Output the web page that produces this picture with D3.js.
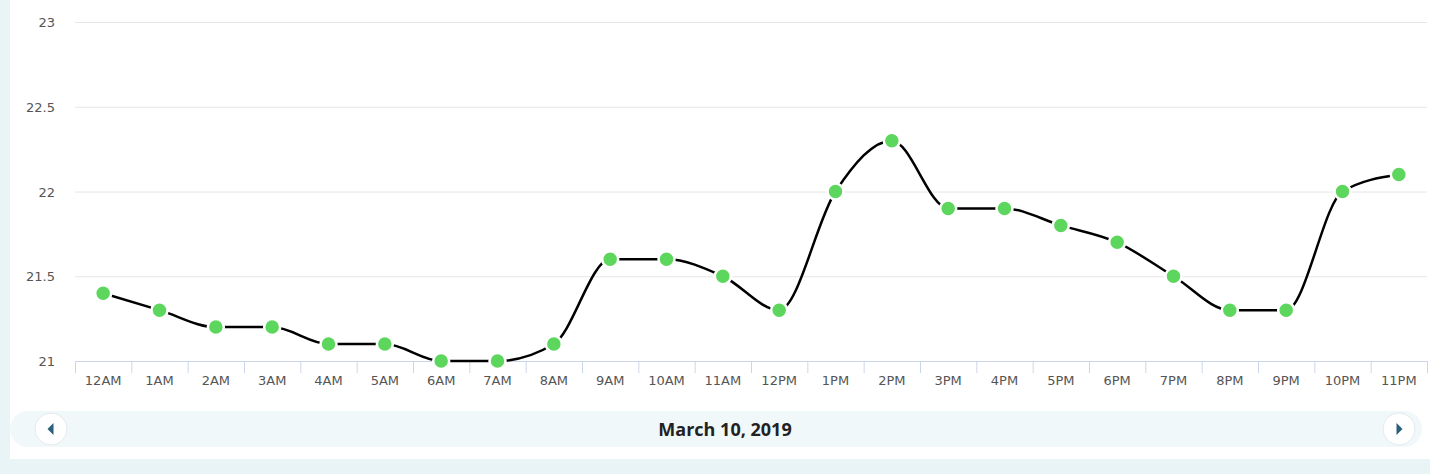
<!DOCTYPE html>
<html>
<head>
<meta charset="utf-8">
<script src="https://cdn.jsdelivr.net/npm/d3@7"></script>
<style>
  body { margin: 0; background: #e9f4f6; }
  svg { display: block; }
</style>
</head>
<body>
<script>
// hourly values for one day
let hours = ["12AM", "1AM", "2AM", "3AM", "4AM", "5AM", "6AM", "7AM", "8AM", "9AM", "10AM", "11AM",
    "12PM", "1PM", "2PM", "3PM", "4PM", "5PM", "6PM", "7PM", "8PM", "9PM", "10PM", "11PM"]
let values = [21.4, 21.3, 21.2, 21.2, 21.1, 21.1, 21.0, 21.0, 21.1, 21.6, 21.6, 21.5,
    21.3, 22.0, 22.3, 21.9, 21.9, 21.8, 21.7, 21.5, 21.3, 21.3, 22.0, 22.1]
let yTicks = [21, 21.5, 22, 22.5, 23]
let dateLabel = "March 10, 2019"

let width = 1430
let height = 474

let svg = d3.select("body")
    .append("svg")
    .attr("width", width)
    .attr("height", height)

// white panel
svg.append("rect")
    .attr("x", 10)
    .attr("y", 0)
    .attr("width", width - 10)
    .attr("height", 459)
    .attr("fill", "#fff")

let xScale = d3.scaleBand()
    .domain(hours)
    .range([75, 1427])

let yScale = d3.scaleLinear()
    .domain([21, 23])
    .range([361, 22])

// grid lines
svg.append("g")
    .selectAll("line")
    .data(yTicks.slice(1))
    .enter()
    .append("line")
    .attr("x1", 75)
    .attr("x2", 1427)
    .attr("y1", (d) => yScale(d) + 0.5)
    .attr("y2", (d) => yScale(d) + 0.5)
    .attr("stroke", "#e6e6e6")

// y axis labels
svg.append("g")
    .selectAll("text")
    .data(yTicks)
    .enter()
    .append("text")
    .attr("x", 55)
    .attr("y", (d) => yScale(d) + 5)
    .attr("text-anchor", "end")
    .attr("font-family", "DejaVu Sans")
    .attr("font-size", 13)
    .attr("fill", "#555")
    .text((d) => d)

// x axis
let xAxis = d3.axisBottom(xScale).tickSize(0).tickPadding(15)
let xg = svg.append("g")
    .attr("transform", "translate(0,361)")
    .call(xAxis)
xg.select(".domain").attr("stroke", "#ccd6eb")
xg.selectAll("text")
    .attr("font-family", "DejaVu Sans")
    .attr("font-size", 13)
    .attr("fill", "#555")

// tick marks on band edges
let edges = hours.map((h) => xScale(h)).concat([xScale.range()[1]])
xg.selectAll(".edge")
    .data(edges)
    .enter()
    .append("line")
    .attr("class", "edge")
    .attr("x1", (d) => d + 0.5)
    .attr("x2", (d) => d + 0.5)
    .attr("y1", 0)
    .attr("y2", 12)
    .attr("stroke", "#ccd6eb")

// line
let line = d3.line()
    .x((d, i) => xScale(hours[i]) + xScale.bandwidth() / 2)
    .y((d) => yScale(d))
    .curve(d3.curveMonotoneX)

svg.append("path")
    .datum(values)
    .attr("d", line)
    .attr("fill", "none")
    .attr("stroke", "#000")
    .attr("stroke-width", 2.5)

// markers
svg.selectAll(".dot")
    .data(values)
    .enter()
    .append("circle")
    .attr("class", "dot")
    .attr("cx", (d, i) => xScale(hours[i]) + xScale.bandwidth() / 2)
    .attr("cy", (d) => yScale(d))
    .attr("r", 8)
    .attr("fill", "#5cd65c")
    .attr("stroke", "#fff")
    .attr("stroke-width", 2.5)

// navigator bar
svg.append("rect")
    .attr("x", 10)
    .attr("y", 411)
    .attr("width", 1412)
    .attr("height", 36)
    .attr("rx", 18)
    .attr("fill", "#f1f8fa")

let buttons = [{ x: 51, dir: -1 }, { x: 1399, dir: 1 }]
let btn = svg.selectAll(".btn")
    .data(buttons)
    .enter()
    .append("g")
    .attr("class", "btn")
    .attr("transform", (d) => "translate(" + d.x + ",429)")
btn.append("circle")
    .attr("r", 16)
    .attr("fill", "#fff")
    .attr("stroke", "#e3eaee")
btn.append("path")
    .attr("d", (d) => d.dir < 0 ? "M2.5,-6 L-3.5,0 L2.5,6 Z" : "M-2.5,-6 L3.5,0 L-2.5,6 Z")
    .attr("fill", "#2c5f7c")

svg.append("text")
    .attr("x", 725)
    .attr("y", 436)
    .attr("text-anchor", "middle")
    .attr("font-family", "Open Sans")
    .attr("font-weight", "bold")
    .attr("font-size", 18)
    .attr("fill", "#222")
    .text(dateLabel)
</script>
</body>
</html>
